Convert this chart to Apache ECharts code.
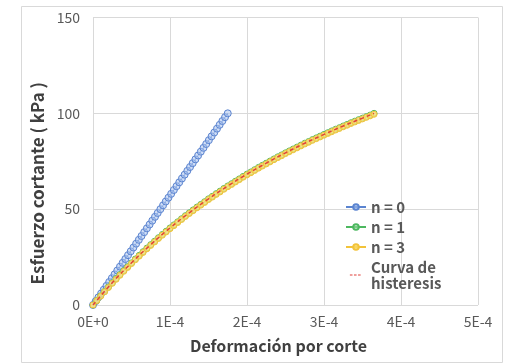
<!DOCTYPE html>
<html>
<head>
<meta charset="utf-8">
<script src="https://cdn.jsdelivr.net/npm/echarts@6/dist/echarts.min.js"></script>
<style>
  html, body { margin: 0; padding: 0; background: #ffffff; }
  #chart { width: 506px; height: 364px; }
</style>
</head>
<body>
<div id="chart"></div>
<script>
// Shear strain is stored in units of 1E-4, shear stress in kPa.
const xTicks = [0, 1, 2, 3, 4, 5];
const yTicks = [0, 50, 100, 150];

const seriesNames = ['n = 0', 'n = 1', 'n = 3', 'Curva de\nhisteresis'];

// n = 0 : first loading
const strainN0 = [0, 0.035, 0.07, 0.105, 0.14, 0.175, 0.21, 0.245, 0.28, 0.315, 0.35, 0.385, 0.42, 0.455, 0.49,
  0.525, 0.56, 0.595, 0.63, 0.665, 0.7, 0.735, 0.77, 0.805, 0.84, 0.875, 0.91, 0.945, 0.98, 1.015, 1.05,
  1.085, 1.12, 1.155, 1.19, 1.225, 1.26, 1.295, 1.33, 1.365, 1.4, 1.435, 1.47, 1.505, 1.54, 1.575, 1.61,
  1.645, 1.68, 1.715, 1.75];
const stressN0 = [0, 2, 4, 6, 8, 10, 12, 14, 16, 18, 20, 22, 24, 26, 28, 30, 32, 34, 36, 38, 40, 42, 44, 46,
  48, 50, 52, 54, 56, 58, 60, 62, 64, 66, 68, 70, 72, 74, 76, 78, 80, 82, 84, 86, 88, 90, 92, 94, 96, 98, 100];

// n = 1 and n = 3 : reloading branches
const strainCycle = [0, 0.05, 0.1, 0.15, 0.2, 0.25, 0.3, 0.35, 0.4, 0.45, 0.5, 0.55, 0.6, 0.65, 0.7, 0.75,
  0.8, 0.85, 0.9, 0.95, 1, 1.05, 1.1, 1.15, 1.2, 1.25, 1.3, 1.35, 1.4, 1.45, 1.5, 1.55, 1.6, 1.65, 1.7,
  1.75, 1.8, 1.85, 1.9, 1.95, 2, 2.05, 2.1, 2.15, 2.2, 2.25, 2.3, 2.35, 2.4, 2.45, 2.5, 2.55, 2.6, 2.65,
  2.7, 2.75, 2.8, 2.85, 2.9, 2.95, 3, 3.05, 3.1, 3.15, 3.2, 3.25, 3.3, 3.35, 3.4, 3.45, 3.5, 3.55, 3.6, 3.65];
const stressN1 = [0, 2.4, 4.8, 7.1, 9.4, 11.6, 13.8, 15.9, 18.0, 20.0, 22.0, 24.0, 25.9, 27.8, 29.7, 31.5,
  33.3, 35.1, 36.8, 38.5, 40.2, 41.8, 43.4, 45.0, 46.6, 48.1, 49.6, 51.1, 52.5, 53.9, 55.4, 56.7, 58.1,
  59.4, 60.8, 62.1, 63.3, 64.6, 65.8, 67.1, 68.3, 69.4, 70.6, 71.8, 72.9, 74.0, 75.1, 76.2, 77.3, 78.3,
  79.4, 80.4, 81.4, 82.4, 83.4, 84.4, 85.3, 86.3, 87.2, 88.1, 89.0, 89.9, 90.8, 91.7, 92.5, 93.4, 94.2,
  95.1, 95.9, 96.7, 97.5, 98.3, 99.1, 100.0];
const stressN3 = [0, 2.3, 4.6, 6.9, 9.1, 11.3, 13.4, 15.5, 17.6, 19.6, 21.6, 23.6, 25.5, 27.4, 29.3, 31.1,
  32.9, 34.7, 36.4, 38.1, 39.8, 41.4, 43.0, 44.6, 46.2, 47.7, 49.2, 50.7, 52.1, 53.5, 55.0, 56.3, 57.7,
  59.0, 60.4, 61.7, 62.9, 64.2, 65.4, 66.7, 67.9, 69.0, 70.2, 71.4, 72.5, 73.6, 74.7, 75.8, 76.9, 77.9,
  79.0, 80.0, 81.0, 82.0, 83.0, 84.0, 84.9, 85.9, 86.8, 87.7, 88.6, 89.5, 90.4, 91.3, 92.1, 93.0, 93.8,
  94.7, 95.5, 96.3, 97.1, 97.9, 98.7, 99.5];

// hysteresis model curve
const strainHyst = [0, 0.25, 0.5, 0.75, 1, 1.25, 1.5, 1.75, 2, 2.25, 2.5, 2.75, 3, 3.25, 3.5, 3.65];
const stressHyst = [0, 11.6, 22.0, 31.5, 40.2, 48.1, 55.4, 62.1, 68.3, 74.0, 79.4, 84.4, 89.0, 93.4, 97.5, 100];

const pairs = (xs, ys) => xs.map((x, i) => [x, ys[i]]);
const FONT = '"Noto Sans CJK KR", "Noto Sans", sans-serif';

// dashed legend key for the hysteresis curve (tiny corner dots fix the icon's bounding box)
const DASH_ICON = 'path://M0,5.3h4.5v1.6h-4.5z M7,5.3h4.5v1.6h-4.5z M14,5.3h4.5v1.6h-4.5z ' +
  'M0,0h0.01v0.01h-0.01z M21,12h0.01v0.01h-0.01z';

const markerSeries = (name, xs, ys, stroke, fill, size) => ({
  name: name,
  type: 'line',
  z: 2,
  data: pairs(xs, ys),
  symbol: 'circle',
  symbolSize: size,
  showSymbol: true,
  lineStyle: { color: stroke, width: 1 },
  itemStyle: { color: fill, borderColor: stroke, borderWidth: 1 },
  emphasis: { disabled: true },
  animation: false
});

const chart = echarts.init(document.getElementById('chart'), null, { renderer: 'canvas' });
chart.setOption({
  backgroundColor: '#ffffff',
  animation: false,
  graphic: [{
    type: 'rect',
    shape: { x: 21.5, y: 6.5, width: 481, height: 356 },
    style: { fill: 'none', stroke: '#d9d9d9', lineWidth: 1 },
    silent: true
  }],
  grid: { left: 93, right: 28, top: 17.5, bottom: 59, containLabel: false },
  legend: {
    orient: 'vertical',
    left: 345,
    top: 193,
    padding: 0,
    itemGap: -8,
    itemWidth: 20,
    itemHeight: 7,
    data: [
      { name: seriesNames[0] },
      { name: seriesNames[1] },
      { name: seriesNames[2] },
      { name: seriesNames[3], icon: DASH_ICON, itemStyle: { color: '#e0403a', borderWidth: 0 } }
    ],
    textStyle: {
      fontFamily: FONT,
      fontSize: 15,
      fontWeight: 'bold',
      color: '#595959',
      lineHeight: 16,
      padding: [0, 0, 12, 0]
    }
  },
  xAxis: {
    type: 'value',
    min: xTicks[0],
    max: xTicks[xTicks.length - 1],
    interval: 1,
    name: 'Deformación por corte',
    nameLocation: 'middle',
    nameGap: 33,
    nameTextStyle: { fontFamily: FONT, fontSize: 16, fontWeight: 'bold', color: '#404040', padding: [0, 14, 0, 0] },
    axisLine: { show: false },
    axisTick: { show: false },
    splitLine: { show: true, lineStyle: { color: '#d9d9d9', width: 1 } },
    axisLabel: {
      margin: 10,
      fontFamily: FONT,
      fontSize: 14,
      color: '#595959',
      formatter: v => (v === 0 ? '0E+0' : v + 'E-4')
    }
  },
  yAxis: {
    type: 'value',
    min: yTicks[0],
    max: yTicks[yTicks.length - 1],
    interval: 50,
    name: 'Esfuerzo cortante ( kPa )',
    nameLocation: 'middle',
    nameGap: 36,
    nameTextStyle: { fontFamily: FONT, fontSize: 17, fontWeight: 'bold', color: '#404040', padding: [0, 44, 0, 0] },
    axisLine: { show: false },
    axisTick: { show: false },
    splitLine: { show: true, lineStyle: { color: '#d9d9d9', width: 1 } },
    axisLabel: {
      margin: 13,
      fontFamily: FONT,
      fontSize: 14,
      color: '#595959'
    }
  },
  series: [
    markerSeries(seriesNames[0], strainN0, stressN0, '#5b84d0', 'rgba(170,195,238,0.55)', 7),
    markerSeries(seriesNames[1], strainCycle, stressN1, '#4db860', 'rgba(200,236,200,0.4)', 6),
    markerSeries(seriesNames[2], strainCycle, stressN3, '#f2c33a', 'rgba(250,220,110,0.75)', 6),
    {
      name: seriesNames[3],
      type: 'line',
      z: 5,
      data: pairs(strainHyst, stressHyst),
      smooth: true,
      showSymbol: false,
      symbol: 'none',
      lineStyle: { color: '#e0403a', width: 1.5, type: [4, 3] },
      itemStyle: { color: '#e0403a' },
      emphasis: { disabled: true },
      animation: false
    }
  ]
});
</script>
</body>
</html>
